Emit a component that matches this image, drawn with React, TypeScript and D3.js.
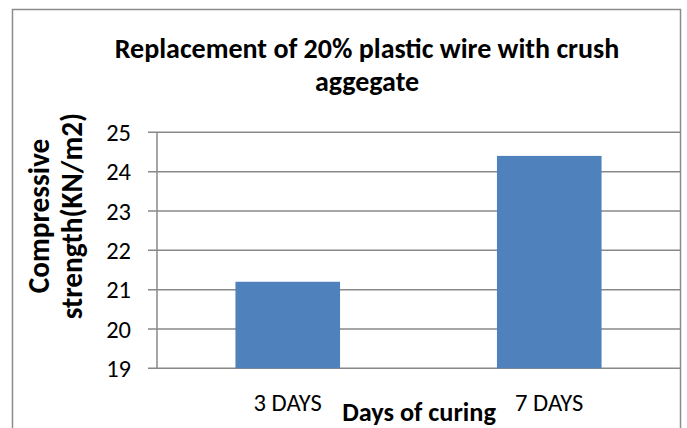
import React from "react";
import * as d3 from "d3";

const categories = ["3 DAYS", "7 DAYS"];
const values = [21.2, 24.4];
const yTicks = [19, 20, 21, 22, 23, 24, 25];
const titleLines = ["Replacement of 20% plastic wire with crush", "aggegate"];
const yTitleLines = ["Compressive", "strength(KN/m2)"];
const xTitle = "Days of curing";

const W = 687;
const H = 428;
const FONT = "Carlito, Calibri, Lato, sans-serif";

export default function App() {
  const plotLeft = 157;
  const plotRight = 680;
  const plotTop = 132.3;
  const plotBottom = 368.3;

  const x = d3.scaleBand().domain(categories).range([plotLeft, plotRight]).paddingInner(0.6).paddingOuter(0.3);
  const y = d3.scaleLinear().domain([19, 25]).range([plotBottom, plotTop]);

  return (
    <svg width={W} height={H} style={{ position: "absolute", left: 0, top: 0, background: "#fff" }}>
      <rect x={12.5} y={9.5} width={668} height={440} fill="#fff" stroke="#8c8c8c" strokeWidth={1.5} />
      {titleLines.map((t, i) => (
        <text key={t} x={367} y={58 + i * 33} textAnchor="middle" fontFamily={FONT} fontWeight="bold" fontSize={28} fill="#000">
          {t}
        </text>
      ))}
      {yTicks.map((t) => (
        <g key={t}>
          <line x1={148} x2={plotRight} y1={y(t)} y2={y(t)} stroke="#888" strokeWidth={1.5} />
          <text x={131} y={y(t)} dy="0.35em" textAnchor="end" fontFamily={FONT} fontSize={24.5} fill="#000">
            {t}
          </text>
        </g>
      ))}
      <line x1={plotLeft} x2={plotLeft} y1={plotTop} y2={plotBottom} stroke="#888" strokeWidth={1.5} />
      {categories.map((c, i) => (
        <rect key={c} x={x(c)} y={y(values[i])} width={x.bandwidth()} height={plotBottom - y(values[i])} fill="#4F81BD" />
      ))}
      {categories.map((c) => (
        <text key={c} x={(x(c) as number) + x.bandwidth() / 2} y={410.5} textAnchor="middle" fontFamily={FONT} fontSize={24.6} fill="#000">
          {c}
        </text>
      ))}
      <text x={419} y={421} textAnchor="middle" fontFamily={FONT} fontWeight="bold" fontSize={26.3} fill="#000">
        {xTitle}
      </text>
      <g transform="translate(0,216)">
        {yTitleLines.map((t, i) => (
          <text key={t} transform={`translate(${49 + i * 33},0) rotate(-90)`} textAnchor="middle" fontFamily={FONT} fontWeight="bold" fontSize={29.3} fill="#000">
            {t}
          </text>
        ))}
      </g>
    </svg>
  );
}
